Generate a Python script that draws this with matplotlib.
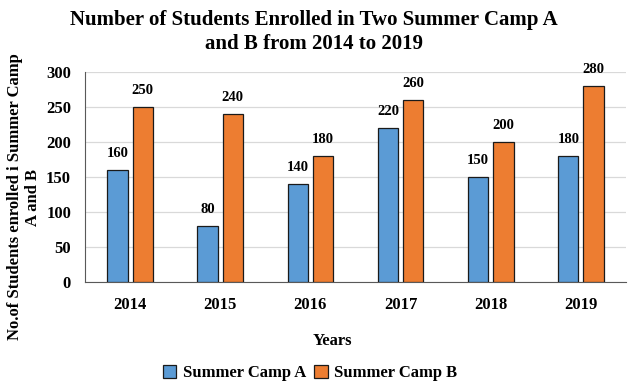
import matplotlib
matplotlib.use("Agg")
import matplotlib.pyplot as plt
import numpy as np

years = ["2014", "2015", "2016", "2017", "2018", "2019"]
camp_a = [160, 80, 140, 220, 150, 180]
camp_b = [250, 240, 180, 260, 200, 280]
yticks = [0, 50, 100, 150, 200, 250, 300]

plt.rcParams['font.family'] = ['Liberation Serif', 'DejaVu Serif']
plt.rcParams['font.weight'] = 'bold'

fig = plt.figure(figsize=(6.42, 3.87), dpi=100)
ax = fig.add_axes([85/642, 1-282/387, (626-85)/642, (282-72)/387])

x = np.arange(len(years))
w = 0.225
off = 0.14
ba = ax.bar(x - off, camp_a, w, color='#5B9BD5', edgecolor='#1a1a1a', linewidth=0.9, label='Summer Camp A', zorder=3)
bb = ax.bar(x + off, camp_b, w, color='#ED7D31', edgecolor='#1a1a1a', linewidth=0.9, label='Summer Camp B', zorder=3)

for bars in (ba, bb):
    for r in bars:
        h = r.get_height()
        ax.annotate(f"{int(h)}", (r.get_x() + r.get_width()/2, h), xytext=(0, 7),
                    textcoords='offset points', ha='center', va='bottom',
                    fontsize=10.5, fontweight='bold')

ax.set_xlim(-0.5, len(years) - 0.5)
ax.set_ylim(0, 300)
ax.set_yticks(yticks)
ax.set_xticks(x)
ax.set_xticklabels(years)
ax.tick_params(axis='both', length=0, labelsize=12)
ax.tick_params(axis='x', pad=11)
ax.tick_params(axis='y', pad=10)
for lab in ax.get_xticklabels() + ax.get_yticklabels():
    lab.set_fontweight('bold')
ax.grid(axis='y', color='#D9D9D9', linewidth=0.9, zorder=0)
for s in ['top', 'right']:
    ax.spines[s].set_visible(False)
ax.spines['left'].set_color('#595959')
ax.spines['bottom'].set_color('#595959')

fig.text(332/642, 1-341/387, "Years", ha='center', va='center', fontsize=12, fontweight='bold')
fig.text(24/642, 1-197/387, "No.of Students enrolled i Summer Camp\nA and B", ha='center', va='center',
         rotation=90, fontsize=12, fontweight='bold', linespacing=1.15)
fig.text(314/642, 1-32/387, "Number of Students Enrolled in Two Summer Camp A\nand B from 2014 to 2019",
         ha='center', va='center', fontsize=15, fontweight='bold', linespacing=1.25)

fig.legend(handles=[ba, bb], loc='center', bbox_to_anchor=(310/642, 1-373/387), ncol=2,
           frameon=False, fontsize=12, handlelength=0.8, handleheight=0.8, handletextpad=0.4,
           columnspacing=0.5)

fig.savefig("out.png", dpi=100)
